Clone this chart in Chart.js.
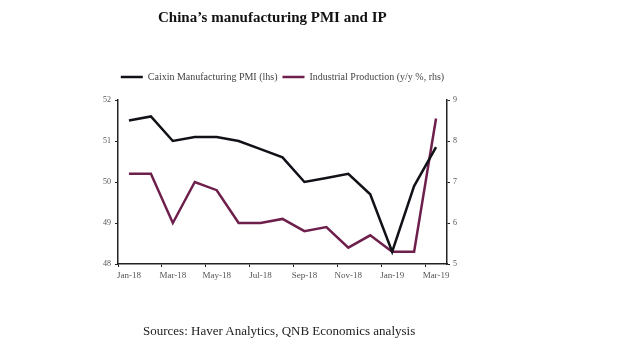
<!DOCTYPE html>
<html>
<head>
<meta charset="utf-8">
<script src="https://cdn.jsdelivr.net/npm/chart.js@4/dist/chart.umd.min.js"></script>
<style>
  html, body { margin: 0; padding: 0; background: #fff; }
  #wrap { position: relative; width: 620px; height: 355px; overflow: hidden; }
  #chart { position: absolute; left: 0; top: 0; }
  #title { position: absolute; left: 158px; top: 9px; font: bold 15px "Liberation Serif", "Times New Roman", serif; color: #111; white-space: pre; }
  #source { position: absolute; left: 143px; top: 323px; font: 13px "Liberation Serif", "Times New Roman", serif; color: #222; white-space: pre; }
</style>
</head>
<body>
<div id="wrap">
  <canvas id="chart" width="620" height="355"></canvas>
  <div id="title">China’s manufacturing PMI and IP</div>
  <div id="source">Sources: Haver Analytics, QNB Economics analysis</div>
</div>
<script>
const categories = ["Jan-18","Feb-18","Mar-18","Apr-18","May-18","Jun-18","Jul-18","Aug-18","Sep-18","Oct-18","Nov-18","Dec-18","Jan-19","Feb-19","Mar-19"];
const pmiValues = [51.5, 51.6, 51.0, 51.1, 51.1, 51.0, 50.8, 50.6, 50.0, 50.1, 50.2, 49.7, 48.3, 49.9, 50.85];
const ipValues  = [7.2, 7.2, 6.0, 7.0, 6.8, 6.0, 6.0, 6.1, 5.8, 5.9, 5.4, 5.7, 5.3, 5.3, 8.55];
const leftTicks = [48, 49, 50, 51, 52];
const rightTicks = [5, 6, 7, 8, 9];

const serif = '"Liberation Serif", "Times New Roman", serif';
const tickColor = '#555';
const axisColor = '#222';

const legendGap = {
  id: 'legendGap',
  afterInit(chart) {
    const lg = chart.legend;
    if (!lg) return;
    const orig = lg.fit.bind(lg);
    lg.fit = function () { orig(); this.height += 8; };
  }
};

new Chart(document.getElementById('chart'), {
  type: 'line',
  data: {
    labels: categories,
    datasets: [
      {
        label: 'Caixin Manufacturing PMI (lhs)',
        data: pmiValues,
        borderColor: '#111118',
        backgroundColor: '#111118',
        borderWidth: 2.5,
        pointRadius: 0,
        tension: 0,
        yAxisID: 'y'
      },
      {
        label: 'Industrial Production (y/y %, rhs)',
        data: ipValues,
        borderColor: '#6e1f4b',
        backgroundColor: '#6e1f4b',
        borderWidth: 2.5,
        pointRadius: 0,
        tension: 0,
        yAxisID: 'y1'
      }
    ]
  },
  options: {
    responsive: false,
    animation: false,
    layout: { padding: { left: 88, right: 143, top: 67, bottom: 66 } },
    plugins: {
      tooltip: { enabled: false },
      title: { display: false },
      legend: {
        display: true,
        position: 'top',
        align: 'center',
        labels: {
          usePointStyle: true,
          pointStyle: 'line',
          pointStyleWidth: 22,
          boxHeight: 10,
          padding: 5,
          color: '#444',
          font: { family: serif, size: 10 }
        }
      }
    },
    scales: {
      x: {
        type: 'category',
        offset: true,
        afterFit(s) { s.height = 25; },
        border: { display: true, color: axisColor, width: 1.5 },
        grid: {
          display: true,
          offset: true,
          drawOnChartArea: false,
          drawTicks: true,
          tickLength: 3,
          color: (ctx) => (ctx.index % 2 === 0 ? axisColor : 'rgba(0,0,0,0)')
        },
        ticks: {
          autoSkip: false,
          maxRotation: 0,
          minRotation: 0,
          padding: 3,
          color: tickColor,
          font: { family: serif, size: 9 },
          callback: (v, i) => (i % 2 === 0 ? categories[i] : '')
        }
      },
      y: {
        position: 'left',
        min: leftTicks[0],
        max: leftTicks[leftTicks.length - 1],
        afterFit(s) { s.width = 30; },
        afterBuildTicks(s) { s.ticks = leftTicks.map(v => ({ value: v })); },
        border: { display: true, color: axisColor, width: 1.5 },
        grid: { display: true, drawOnChartArea: false, tickLength: 3, color: axisColor },
        ticks: { padding: 4, color: tickColor, font: { family: serif, size: 8 } }
      },
      y1: {
        position: 'right',
        min: rightTicks[0],
        max: rightTicks[rightTicks.length - 1],
        afterFit(s) { s.width = 30; },
        afterBuildTicks(s) { s.ticks = rightTicks.map(v => ({ value: v })); },
        border: { display: true, color: axisColor, width: 1.5 },
        grid: { display: true, drawOnChartArea: false, tickLength: 3, color: axisColor },
        ticks: { padding: 3, color: tickColor, font: { family: serif, size: 8 } }
      }
    }
  },
  plugins: [legendGap]
});
</script>
</body>
</html>
